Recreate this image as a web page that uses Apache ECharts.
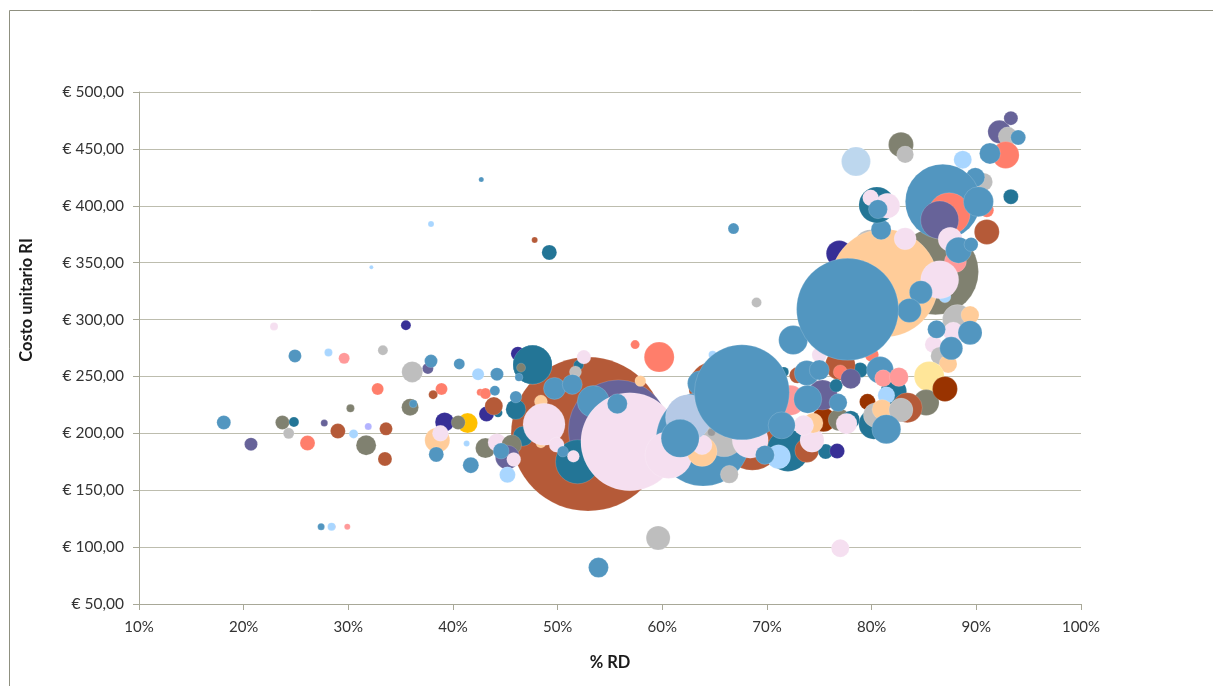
<!DOCTYPE html>
<html><head><meta charset="utf-8">
<script src="https://cdn.jsdelivr.net/npm/echarts@6/dist/echarts.min.js"></script>
<style>html,body{margin:0;padding:0;background:#fff}#c{width:1213px;height:686px}</style>
</head><body><div id="c"></div>
<script>
// rows in paint order: % RD, cost RI, bubble volume, group
const bubbles = [
[52.9,199.4,23716,'brown'],[55.8,203,10000,'purple'],
[47.6,260.3,1521,'teal'],[46.2,270,196,'navy'],[47.6,260.3,1521,'teal'],[46.5,257.7,81,'olive'],[46.3,249.2,64,'blue'],
[52,260,100,'teal'],[51.7,254,144,'grey'],[52.5,267,196,'pink'],[49.7,239.5,484,'blue'],[51.4,243,400,'blue'],
[48.4,228,169,'peach'],[48.4,191.5,100,'peach'],[46.7,197.5,400,'teal'],[51.9,175,1936,'teal'],[53.4,228,1024,'blue'],
[56.9,192.6,9604,'pink'],[55.7,226,400,'blue'],[48.7,208,1764,'pink'],[49.9,190,225,'pink'],[50.5,184,121,'blue'],[51.5,179.8,144,'pink'],
[59.7,267,900,'salmon'],[57.4,278,81,'salmon'],[57.9,246,121,'peach'],[59.6,108,576,'grey'],[53.9,82,400,'blue'],[77,99,324,'pink'],
[22.9,294,64,'pink'],[35.5,295,100,'navy'],[24.9,268,169,'blue'],[28.1,271,64,'sky'],[29.6,266,121,'rose'],[33.3,273,100,'grey'],
[36.1,254,441,'grey'],[37.6,257,121,'purple'],[37.9,263.5,169,'blue'],[40.6,261,121,'blue'],[42.4,252,144,'sky'],[44.2,252,169,'blue'],
[32.8,239,144,'salmon'],[38.9,239,144,'salmon'],[38.1,234,81,'brown'],[42.6,236,49,'salmon'],[43.1,235,121,'salmon'],[44,237.5,100,'blue'],
[30.2,222,64,'olive'],[35.9,223,289,'olive'],[36.2,226,64,'blue'],[46,221,400,'teal'],[46,232,144,'blue'],[43.2,217,225,'navy'],[44.3,218,81,'teal'],[43.9,224,324,'brown'],
[18.1,209.5,196,'blue'],[23.7,209.5,196,'olive'],[24.8,210,100,'teal'],[27.7,209,49,'purple'],[39.2,210,361,'navy'],[41.4,209,400,'gold'],[40.5,209.5,196,'olive'],
[24.3,200,121,'grey'],[20.7,190.5,169,'purple'],[26.1,191.5,225,'salmon'],[29,202,225,'brown'],[30.5,199.5,81,'sky'],[31.9,206,49,'lavender'],[33.6,204,169,'brown'],
[31.7,189.5,400,'olive'],[33.5,177.5,196,'brown'],[38.5,194,625,'peach'],[38.8,200,256,'pink'],[41.3,191,36,'sky'],[38.4,181.5,225,'blue'],[41.7,172,256,'blue'],
[43.1,187,400,'olive'],[44.2,192,324,'pink'],[45.6,190,400,'olive'],[45.2,179,576,'purple'],[44.6,184.5,256,'blue'],[45.8,177,196,'pink'],[45.2,163.5,256,'sky'],
[27.4,118,49,'blue'],[28.6,118,16,'rose'],[28.4,118,64,'sky'],[29.9,118,36,'rose'],
[42.7,423,25,'blue'],[37.9,384,36,'sky'],[32.2,346,16,'sky'],[47.8,370,36,'brown'],[49.2,359,225,'teal'],[66.8,380,121,'blue'],[69,315,100,'grey'],
[64.8,269,64,'sky'],[64.9,241,2500,'brown'],[68.6,194,3600,'brown'],[63.9,195,8836,'blue'],[60.6,181,2209,'pink'],[63.6,244,625,'blue'],
[72,185,1764,'teal'],[73.8,185,576,'brown'],[75.6,184,225,'teal'],[76.7,184.5,225,'navy'],[74.3,194,576,'pink'],
[65.9,197,1600,'grey'],[64.7,201,64,'darkgrey'],[63.8,184,900,'peach'],[63.8,190,400,'pink'],[62.5,214,2116,'pale'],[61.7,195.6,1444,'blue'],[68.4,194,1296,'pink'],[66.4,164,324,'grey'],
[72.2,229,900,'rose'],[72.9,251,256,'brown'],[71.6,254,100,'teal'],[78.9,255.6,225,'teal'],[75,269,225,'pink'],[77,260,900,'brown'],[77,254,196,'salmon'],[80,269,196,'salmon'],
[75.4,212,576,'rust'],[74.4,209,400,'peach'],[76.9,212,484,'olive'],[78,212,324,'teal'],[77.6,208.5,441,'pink'],[73.5,207,400,'pink'],
[75.3,233.6,900,'purple'],[73.8,253,625,'blue'],[75,255.6,400,'blue'],[73.9,230,784,'blue'],[76.6,242,169,'teal'],[76.8,227,324,'blue'],[78,248,400,'purple'],
[67.6,236,9025,'blue'],[71.4,207,729,'blue'],[71.1,179.5,576,'sky'],[69.8,181,361,'blue'],[72.5,282,841,'blue'],
[86.1,342,7396,'olive'],[79.9,364,1156,'grey'],[76.9,358,676,'navy'],[81.2,332,11664,'peach'],[83.2,371,484,'pink'],[80.9,379,400,'blue'],
[80.5,400.7,1296,'teal'],[79.9,407,256,'pink'],[81.5,400,625,'pink'],[80.6,397,361,'blue'],[78.5,439,841,'pale2'],[82.8,453.7,625,'olive'],[83.2,445,289,'grey'],
[92.2,465,529,'purple'],[93.3,477,196,'purple'],[93,461,361,'grey'],[94,460,225,'blue'],[92.8,444.6,729,'salmon'],[91.3,446,441,'blue'],[88.7,440.5,324,'sky'],
[90.7,421,324,'grey'],[89.9,425,361,'blue'],[91,396,196,'salmon'],[86.8,403.6,5625,'blue'],[87.4,393,1764,'salmon'],[86.5,387.5,1444,'purple'],[90.2,403.6,900,'blue'],
[91,377,625,'brown'],[93.3,408,225,'teal'],[88,351,484,'rose'],[87.5,370.5,576,'pink'],[88.3,361,676,'blue'],[89.5,366,196,'blue'],[87,320,144,'sky'],[86.5,335,1444,'pink'],[84.7,324,529,'blue'],
[88.2,300,900,'grey'],[89.4,304,324,'peach'],[87.8,289,400,'pink'],[85.9,278,289,'pink'],[86.5,268,324,'grey'],[87.3,261,324,'peach'],[85.5,250,900,'cream'],[85.2,227,676,'olive'],[87,239,625,'rust'],
[86.2,291.4,324,'blue'],[89.4,288.5,576,'blue'],[87.6,274.7,529,'blue'],[83.6,308,576,'blue'],
[77.7,309,10404,'blue'],
[80.8,255.6,729,'blue'],[82.1,236.6,676,'teal'],[81.1,248.4,289,'rose'],[82.6,249.5,361,'rose'],[81.4,233.4,289,'sky'],[79.6,227.7,256,'rust'],
[83.4,222.5,900,'brown'],[80.2,208,900,'teal'],[80.4,216,625,'grey'],[81,221,400,'peach'],[82.8,220.5,576,'grey'],[81.4,203.6,841,'blue']
];
const groupColors = {blue:'#5296C0',teal:'#237596',brown:'#B55A38',purple:'#676399',olive:'#808170',grey:'#BEBEBE',darkgrey:'#9A9A9A',navy:'#372F96',salmon:'#FF7E6B',rose:'#FF9999',pink:'#F5DFF0',sky:'#A9D6FF',peach:'#FFCC99',gold:'#FFC000',cream:'#FFE699',rust:'#993300',pale:'#B5C9E6',pale2:'#BDD7EE',lavender:'#B3B3FF'};
const xTicksMin = 10, xTicksMax = 100, yTicksMin = 50, yTicksMax = 500;
const yAxisTitle = 'Costo unitario RI', xAxisTitle = '% RD';
const FONT = 'Lato, "Open Sans", sans-serif';
const LINE = '#A8A898', GRID = '#BDBDAE';
const chart = echarts.init(document.getElementById('c'), null, {renderer:'canvas'});
chart.setOption({
  animation:false,
  backgroundColor:'#fff',
  graphic:[
    {type:'line',shape:{x1:9.5,y1:10.5,x2:1213,y2:10.5},style:{stroke:'#8F9080',lineWidth:1},silent:true},
    {type:'line',shape:{x1:9.5,y1:10.5,x2:9.5,y2:686},style:{stroke:'#8F9080',lineWidth:1},silent:true},
    {type:'text',x:27,y:300,rotation:Math.PI/2,silent:true,
     style:{text:yAxisTitle,align:'center',verticalAlign:'middle',fontFamily:FONT,fontWeight:'bold',fontSize:16.5,fill:'#1a1a1a'}}
  ],
  grid:{left:139,right:132,top:92,bottom:82,containLabel:false},
  xAxis:{type:'value',min:xTicksMin,max:xTicksMax,interval:10,
    name:xAxisTitle,nameLocation:'middle',nameGap:50,
    nameTextStyle:{fontFamily:FONT,fontWeight:'bold',fontSize:16.5,color:'#1a1a1a'},
    axisLine:{lineStyle:{color:LINE}},axisTick:{show:true,length:6,lineStyle:{color:LINE}},
    axisLabel:{formatter:'{value}%',fontFamily:FONT,fontSize:15,color:'#333',margin:16},
    splitLine:{show:false}},
  yAxis:{type:'value',min:yTicksMin,max:yTicksMax,interval:50,
    axisLine:{show:true,lineStyle:{color:LINE}},axisTick:{show:true,length:6,lineStyle:{color:LINE}},
    axisLabel:{formatter:v=>'€ '+v+',00',fontFamily:FONT,fontSize:15.5,color:'#333',margin:15},
    splitLine:{show:true,lineStyle:{color:GRID,width:1}}},
  series:[{type:'scatter',
    data:bubbles.map(b=>[b[0],b[1],b[2]]),
    symbolSize:v=>Math.sqrt(v[2]),
    itemStyle:{opacity:1,borderColor:'rgba(255,255,255,0.25)',borderWidth:0.6,
      color:p=>groupColors[bubbles[p.dataIndex][3]]},
    z:3,clip:false}]
});
</script></body></html>
